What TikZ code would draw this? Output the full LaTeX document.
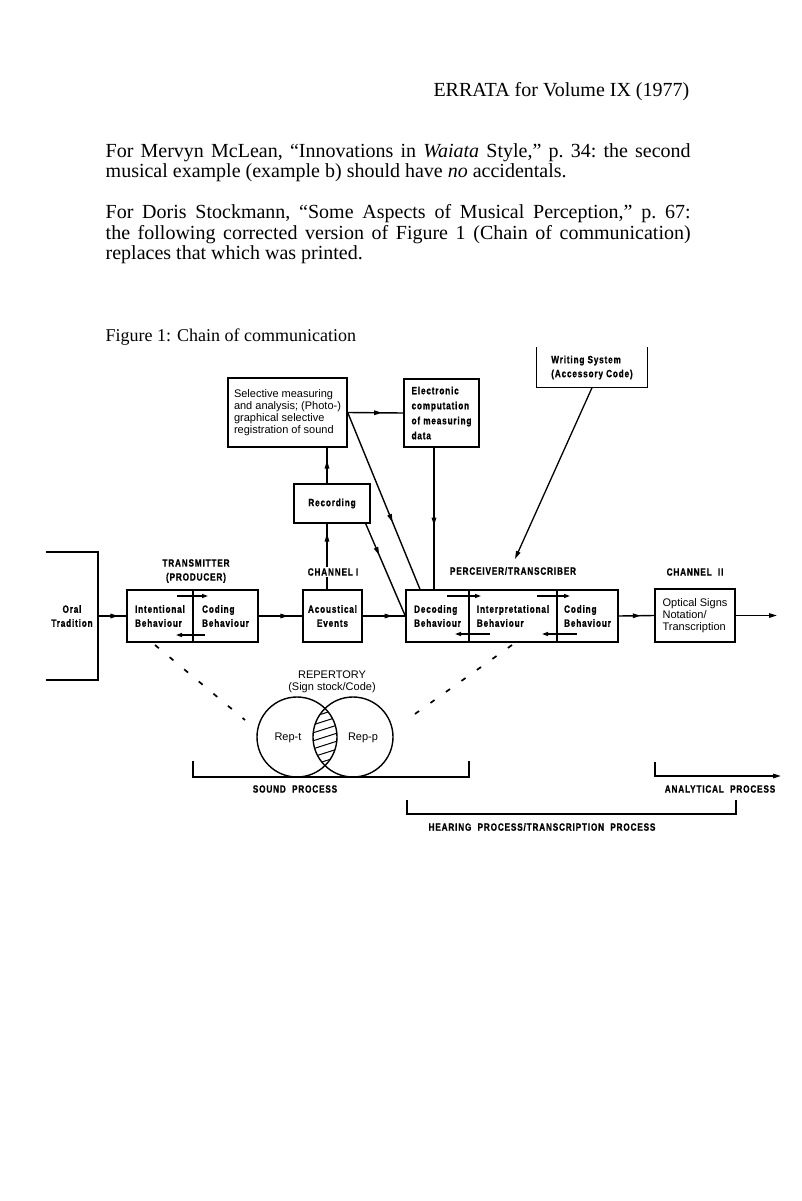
\documentclass[tikz,border=0pt]{standalone}
\usepackage{fontspec}
\setmainfont{Liberation Serif}
\newfontfamily\labf[FakeStretch=0.78,LetterSpace=8,FakeBold=1]{Liberation Sans Bold}
\newfontfamily\helv{Liberation Sans}
\usetikzlibrary{decorations.markings,arrows.meta,calc}
\begin{document}
\begin{tikzpicture}[x=1pt,y=-1pt,line width=1.4pt,
  >={Triangle[length=8pt,width=4.5pt]},
  box/.style={draw,line width=1.4pt,inner sep=0pt,align=left},
  lab/.style={font=\labf\fontsize{10.5}{14}\selectfont},
  labe/.style={font=\labf\fontsize{10.5}{15}\selectfont},
  hv/.style={font=\helv\fontsize{11}{12.2}\selectfont},
  body/.style={anchor=base west,inner sep=0pt,font=\frenchspacing\fontsize{20}{20}\selectfont},
  marr/.style={postaction={decorate},decoration={markings,mark=at position #1 with {\arrow{>}}}},
  small/.style={-{Triangle[length=6pt,width=4pt]},line width=1.3pt},
  dots/.style={line width=1.7pt,dash pattern=on 5pt off 14pt}]
\useasboundingbox (0,0) rectangle (801,1201);

% ---------- text ----------
\node[anchor=base east,inner sep=0pt,font=\fontsize{20}{20}\selectfont] (hdr) at (690,97) {ERRATA for Volume IX (1977)};
\node[body] (p1a) at (105,158) {\makebox[585pt][s]{For Mervyn McLean, ``Innovations in \textit{Waiata} Style,'' p. 34: the second}};
\node[body] (p1b) at (105,178) {musical example (example b) should have \textit{no} accidentals.};
\node[body] (p2a) at (105,218) {\makebox[585pt][s]{For Doris Stockmann, ``Some Aspects of Musical Perception,'' p. 67:}};
\node[body] (p2b) at (105,239) {\makebox[585pt][s]{the following corrected version of Figure 1 (Chain of communication)}};
\node[body] (p2c) at (105,259) {replaces that which was printed.};
\node[anchor=base west,inner sep=0pt,font=\fontsize{18}{18}\selectfont] (cap) at (105,341) {Figure 1: Chain of communication};

% ---------- boxes ----------
\node[box,hv,minimum width=119pt,minimum height=69pt] (sel) at (287.5,412.5) {Selective measuring\\and analysis; (Photo-)\\graphical selective\\registration of sound};
\node[box,labe,minimum width=75pt,minimum height=68pt] (elec) at (441.5,413) {Electronic\\computation\\of measuring\\data};
\node[lab,align=left,inner sep=0pt,minimum width=110pt,minimum height=39pt] (wri) at (592,367.5) {Writing System\\(Accessory Code)};
\draw (wri.north west) -- (wri.south west) -- (wri.south east) -- (wri.north east);
\node[box,lab,minimum width=76pt,minimum height=39pt] (rec) at (332,503.5) {Recording};

\node[box,lab,minimum width=66pt,minimum height=52pt] (int) at (160,616) {Intentional\\Behaviour};
\node[box,lab,minimum width=65pt,minimum height=52pt] (codt) at (225.5,616) {Coding\\Behaviour};
\node[box,lab,align=center,minimum width=59pt,minimum height=52pt] (aco) at (332.5,616) {Acoustical\\Events};
\node[box,lab,minimum width=63pt,minimum height=52pt] (dec) at (437.5,616) {Decoding\\Behaviour};
\node[box,lab,minimum width=88pt,minimum height=52pt] (itp) at (513,616) {Interpretational\\Behaviour};
\node[box,lab,minimum width=61pt,minimum height=52pt] (codp) at (587.5,616) {Coding\\Behaviour};
\node[box,hv,minimum width=80pt,minimum height=53pt] (opt) at (695,615.5) {Optical Signs\\Notation/\\Transcription};

% ---------- labels ----------
\node[lab,align=center] (trans) at (196,571) {TRANSMITTER\\(PRODUCER)};
\node[lab] (perc) at (513,571) {PERCEIVER/TRANSCRIBER};
\node[lab] (ch2) at (695,572) {CHANNEL~~II};
\node[lab,align=center] (oral) at (72,616) {Oral\\Tradition};
\node[hv,align=center] (rep) at (332,681.5) {REPERTORY\\(Sign stock/Code)};

% ---------- coordinates ----------
\coordinate (chx) at (327,0);
\coordinate (elx) at (434,0);
\coordinate (dgx) at (420,0);
\coordinate (oralR) at (98,616);
\coordinate (wtip) at (515,559);
\coordinate (out) at (777,615.5);

% ---------- oral tradition bracket ----------
\coordinate (o1) at (46,552); \coordinate (o2) at (98,552);
\coordinate (o3) at (98,680); \coordinate (o4) at (46,680);
\draw (o1) -- (o2) -- (o3) -- (o4);

% ---------- connectors ----------
\draw[marr=0.72] (oralR) -- (int.west);
\draw[marr=0.68] (codt.east) -- (aco.west);
\draw[marr=0.7] (aco.east) -- (dec.west);
\draw[marr=0.62] (codp.east) -- (opt.west);
\draw[->] (opt.east) -- (out);
\draw[marr=0.85] (chx |- aco.north) -- (chx |- rec.south);
\node[lab,fill=white,inner sep=1.5pt] (ch1) at (333,572) {CHANNEL I};
\draw[marr=0.64] (chx |- rec.north) -- (chx |- sel.south);
\draw[marr=0.62] (sel.east) -- (elec.west);
\draw[marr=0.55] (elx |- elec.south) -- (elx |- dec.north);
\draw[marr=0.62] (sel.east) -- (dgx |- dec.north);
\draw[marr=0.34] ([xshift=-5pt]rec.south east) -- (dec.west);
\draw[->,line width=1.3pt] (wri.south) -- (wtip);

% ---------- inner arrows ----------
\coordinate (ta1) at (177,596); \coordinate (ta2) at (208,596);
\coordinate (tb1) at (205,635); \coordinate (tb2) at (176,635);
\draw[small] (ta1) -- (ta2);
\draw[small] (tb1) -- (tb2);
\coordinate (pa1) at (447,596); \coordinate (pa2) at (481,596);
\coordinate (pb1) at (537,596); \coordinate (pb2) at (570,596);
\coordinate (pc1) at (490,634); \coordinate (pc2) at (455,634);
\coordinate (pd1) at (577,634); \coordinate (pd2) at (542,634);
\draw[small] (pa1) -- (pa2);
\draw[small] (pb1) -- (pb2);
\draw[small] (pc1) -- (pc2);
\draw[small] (pd1) -- (pd2);

% ---------- dotted lines ----------
\coordinate (dl1) at (155,645); \coordinate (dl2) at (245,720);
\coordinate (dr1) at (512,645); \coordinate (dr2) at (405,721);
\draw[dots] (dl1) -- (dl2);
\draw[dots] (dr1) -- (dr2);

% ---------- repertory circles ----------
\begin{scope}
  \clip (297,737) circle (40pt);
  \clip (353,737) circle (40pt);
  \foreach \k in {-5,...,5} \draw[line width=1pt] (300,{737+\k*8+8}) -- (350,{737+\k*8-8});
\end{scope}
\node[circle,draw,line width=1.4pt,minimum size=80pt,inner sep=0pt] (cl) at (297,737) {};
\node[circle,draw,line width=1.4pt,minimum size=80pt,inner sep=0pt] (cr) at (353,737) {};
\node[hv] (rt) at (288,738) {Rep-t};
\node[hv] (rp) at (363,738) {Rep-p};

% ---------- process brackets ----------
\coordinate (s1) at (193,761); \coordinate (s2) at (193,777);
\coordinate (s3) at (469,777); \coordinate (s4) at (469,761);
\draw (s1) -- (s2) -- (s3) -- (s4);
\node[lab] (snd) at (295,789) {SOUND~~PROCESS};
\coordinate (a1) at (655,762); \coordinate (a2) at (655,776); \coordinate (a3) at (781,776);
\draw[->] (a1) -- (a2) -- (a3);
\node[lab] (ana) at (720,789) {ANALYTICAL~~PROCESS};
\coordinate (h1) at (407,800); \coordinate (h2) at (407,814);
\coordinate (h3) at (736,814); \coordinate (h4) at (736,800);
\draw (h1) -- (h2) -- (h3) -- (h4);
\node[lab] (hear) at (542,827) {HEARING~~PROCESS/TRANSCRIPTION~~PROCESS};
\end{tikzpicture}
\end{document}
